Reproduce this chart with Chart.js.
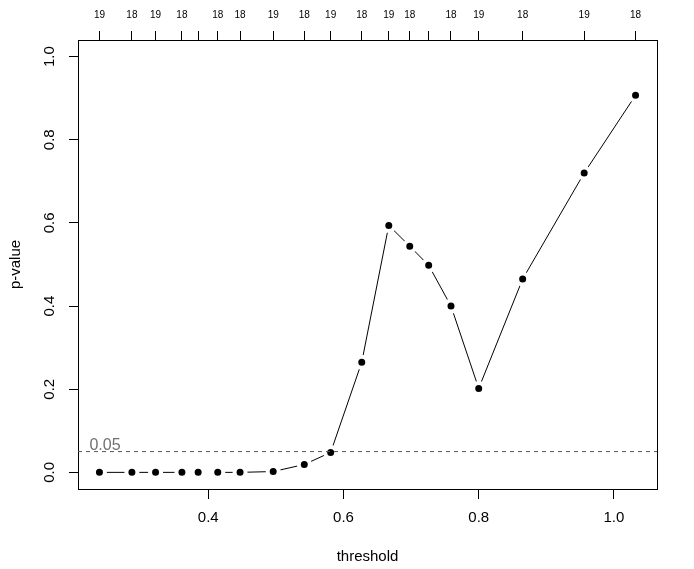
<!DOCTYPE html>
<html>
<head>
<meta charset="utf-8">
<script src="https://cdn.jsdelivr.net/npm/chart.js@4/dist/chart.umd.min.js"></script>
<style>
  html, body { margin: 0; padding: 0; background: #fff; }
  canvas { display: block; }
</style>
</head>
<body>
<canvas id="c" width="694" height="569"></canvas>
<script>
// ---- data ----
const thresholds = [0.239, 0.287, 0.322, 0.361, 0.385, 0.414, 0.447, 0.496, 0.542, 0.581,
                    0.627, 0.667, 0.698, 0.726, 0.759, 0.800, 0.865, 0.956, 1.032];
const pValues    = [0.000, 0.000, 0.000, 0.000, 0.000, 0.000, 0.000, 0.002, 0.019, 0.048,
                    0.265, 0.594, 0.544, 0.498, 0.400, 0.202, 0.465, 0.720, 0.907];
// sample sizes on the top axis (null = label not shown in the reference, overlapping)
const sampleSizes = [19, 18, 19, 18, null, 18, 18, 19, 18, 19,
                     18, 19, 18, null, 18, 19, 18, 19, 18];
const xTickValues = [0.4, 0.6, 0.8, 1.0];
const yTickValues = [0.0, 0.2, 0.4, 0.6, 0.8, 1.0];
const cutoff = 0.05;
const cutoffLabel = '0.05';
const xTitle = 'threshold';
const yTitle = 'p-value';

// R-style 4% axis extension
const xLo = Math.min(...thresholds), xHi = Math.max(...thresholds);
const xPad = (xHi - xLo) * 0.04;
const xMin = xLo - xPad, xMax = xHi + xPad;
const yMin = 0 - 0.04, yMax = 1 + 0.04;

const FONT = "'Liberation Sans', Arial, sans-serif";

const cutoffText = {
  id: 'cutoffText',
  afterDatasetsDraw(chart) {
    const {ctx, scales} = chart;
    ctx.save();
    ctx.font = '16px ' + FONT;
    ctx.fillStyle = '#707070';
    ctx.textAlign = 'left';
    ctx.textBaseline = 'alphabetic';
    ctx.fillText(cutoffLabel, scales.x.getPixelForValue(xLo) - 10, scales.y.getPixelForValue(cutoff) - 1.5);
    ctx.restore();
  }
};

new Chart(document.getElementById('c'), {
  type: 'scatter',
  data: {
    datasets: [
      {
        label: 'cutoff',
        data: [{x: xMin, y: cutoff}, {x: xMax, y: cutoff}],
        showLine: true,
        borderColor: '#555555',
        borderWidth: 1,
        borderDash: [4, 4],
        pointRadius: 0,
        pointHoverRadius: 0
      },
      {
        label: 'p-value',
        data: thresholds.map((t, i) => ({x: t, y: pValues[i]})),
        showLine: true,
        borderColor: '#000',
        borderWidth: 1,
        segment: {
          borderColor: c => Math.hypot(c.p1.x - c.p0.x, c.p1.y - c.p0.y) < 20 ? 'rgba(0,0,0,0)' : '#000'
        },
        pointRadius: 5.5,
        pointBorderWidth: 4,
        pointBackgroundColor: '#000',
        pointBorderColor: '#fff',
        pointHoverRadius: 5.5
      }
    ]
  },
  options: {
    responsive: false,
    animation: false,
    events: [],
    layout: { padding: 0 },
    plugins: { legend: { display: false }, tooltip: { enabled: false } },
    scales: {
      x: {
        type: 'linear', position: 'bottom', min: xMin, max: xMax,
        afterBuildTicks: s => { s.ticks = xTickValues.map(v => ({value: v})); },
        afterFit: s => { s.height = 80; },
        ticks: {
          autoSkip: false, maxRotation: 0, padding: 10, color: '#000',
          font: { family: FONT, size: 15 },
          callback: v => Number(v).toFixed(1)
        },
        grid: { drawOnChartArea: false, drawTicks: true, tickLength: 10, color: '#000' },
        border: { display: true, color: '#000', width: 1 },
        title: { display: true, text: xTitle, color: '#000', font: { family: FONT, size: 15 }, padding: { top: 0, bottom: 3 } }
      },
      xTop: {
        type: 'linear', position: 'top', min: xMin, max: xMax,
        afterBuildTicks: s => { s.ticks = thresholds.map(v => ({value: v})); },
        afterFit: s => { s.height = 40; },
        ticks: {
          autoSkip: false, maxRotation: 0, padding: 10, color: '#000',
          font: { family: FONT, size: 10 },
          callback: (v, i) => sampleSizes[i] == null ? '' : String(sampleSizes[i])
        },
        grid: { drawOnChartArea: false, drawTicks: true, tickLength: 9, color: '#000' },
        border: { display: true, color: '#000', width: 1 }
      },
      y: {
        type: 'linear', position: 'left', min: yMin, max: yMax,
        afterBuildTicks: s => { s.ticks = yTickValues.map(v => ({value: v})); },
        afterFit: s => { s.width = 78; },
        ticks: {
          autoSkip: false, minRotation: 90, maxRotation: 90, crossAlign: 'center', padding: 8.5, color: '#000',
          font: { family: FONT, size: 15 },
          callback: v => Number(v).toFixed(1)
        },
        grid: { drawOnChartArea: false, drawTicks: true, tickLength: 9, color: '#000' },
        border: { display: true, color: '#000', width: 1 },
        title: { display: true, text: yTitle, color: '#000', font: { family: FONT, size: 15 }, padding: { top: 7, bottom: 0 } }
      },
      yRight: {
        type: 'linear', position: 'right', min: yMin, max: yMax,
        afterFit: s => { s.width = 37; },
        ticks: { display: false },
        grid: { drawOnChartArea: false, drawTicks: false },
        border: { display: true, color: '#000', width: 1 }
      }
    }
  },
  plugins: [cutoffText]
});
</script>
</body>
</html>
